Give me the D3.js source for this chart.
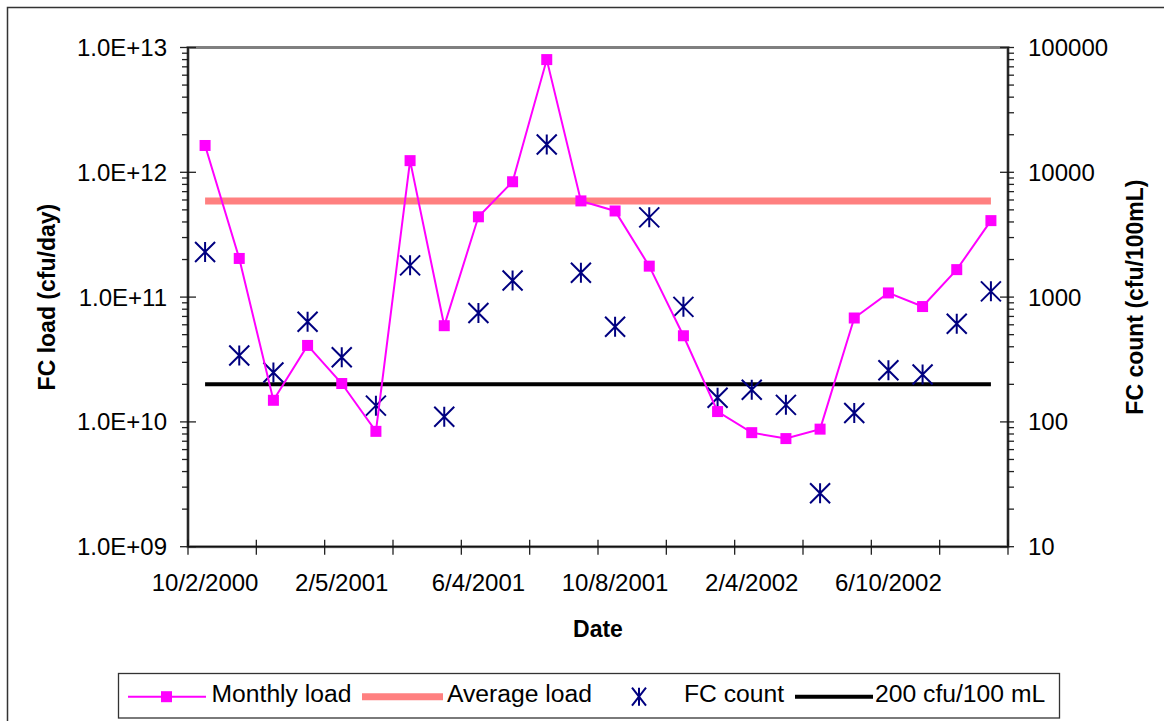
<!DOCTYPE html>
<html><head><meta charset="utf-8">
<script src="https://cdn.jsdelivr.net/npm/d3@7"></script>
<style>
html,body{margin:0;padding:0;background:#fff;}
svg{display:block;font-family:"Liberation Sans",Arial,sans-serif;}
</style>
</head><body>
<svg id="chart" width="1164" height="721"></svg>
<script>
// ---- data ----
const dates = ["10/2/2000","11/6/2000","12/4/2000","1/8/2001","2/5/2001","3/5/2001","4/2/2001","5/7/2001",
  "6/4/2001","7/2/2001","8/6/2001","9/4/2001","10/8/2001","11/5/2001","12/3/2001","1/7/2002",
  "2/4/2002","3/4/2002","4/1/2002","5/6/2002","6/10/2002","7/1/2002","8/5/2002","9/3/2002"];
const monthlyLoad = [1.64e12,2.04e11,1.49e10,4.10e10,2.03e10,8.4e9,1.24e12,5.9e10,
  4.4e11,8.4e11,8.0e12,5.9e11,4.9e11,1.77e11,4.9e10,1.21e10,
  8.2e9,7.35e9,8.75e9,6.8e10,1.08e11,8.4e10,1.66e11,4.1e11];
const fcCount = [2300,340,249,634,330,135,1796,110,
  746,1357,16700,1566,578,4355,835,156,
  181,137,26.8,118,259,240,611,1112];
const averageLoad = 5.9e11;
const standardCount = 200;
const leftTicks = [1e9,1e10,1e11,1e12,1e13];
const leftTickLabels = ["1.0E+09","1.0E+10","1.0E+11","1.0E+12","1.0E+13"];
const rightTicks = [10,100,1000,10000,100000];
const rightTickLabels = ["10","100","1000","10000","100000"];
const legendLabels = ["Monthly load","Average load","FC count","200 cfu/100 mL"];

// ---- layout ----
const svg = d3.select("#chart");
const L = 188, R = 1008, T = 47.5, B = 546.7;
const x = d3.scaleBand().domain(dates).range([L, R]).padding(0);
const cx = d => x(d) + x.bandwidth() / 2;
const yL = d3.scaleLog().domain([1e9, 1e13]).range([B, T]);
const yR = d3.scaleLog().domain([10, 1e5]).range([B, T]);

// outer border
svg.append("rect").attr("x", 7.5).attr("y", 7.5).attr("width", 1170).attr("height", 730)
  .attr("fill", "none").attr("stroke", "#333").attr("stroke-width", 1.5);

// plot area border
svg.append("rect").attr("x", L).attr("y", T).attr("width", R - L).attr("height", B - T)
  .attr("fill", "none").attr("stroke", "#808080").attr("stroke-width", 3);

// minor ticks
function minors(dom) {
  const out = [];
  for (let d = dom[0]; d < dom[1]; d *= 10) for (let k = 2; k <= 9; k++) out.push(k * d);
  return out;
}
const g = svg.append("g").attr("stroke", "#222").attr("stroke-width", 1.3);
g.selectAll(".mnL").data(minors([1e9, 1e13])).enter().append("line")
  .attr("x1", L - 6).attr("x2", L).attr("y1", d => yL(d)).attr("y2", d => yL(d));
g.selectAll(".mnR").data(minors([10, 1e5])).enter().append("line")
  .attr("x1", R).attr("x2", R + 6).attr("y1", d => yR(d)).attr("y2", d => yR(d));
// major ticks (cross)
g.selectAll(".mjL").data(leftTicks).enter().append("line")
  .attr("x1", L - 8).attr("x2", L + 8).attr("y1", d => yL(d)).attr("y2", d => yL(d));
g.selectAll(".mjR").data(rightTicks).enter().append("line")
  .attr("x1", R - 8).attr("x2", R + 6).attr("y1", d => yR(d)).attr("y2", d => yR(d));
// category ticks every 2 categories (cross)
const xTickPos = dates.filter((d, i) => i % 2 === 0).map(d => x(d)).concat([x.range()[1]]);
g.selectAll(".xt").data(xTickPos).enter().append("line")
  .attr("x1", d => d).attr("x2", d => d).attr("y1", B - 7).attr("y2", B + 8);

// axis lines
const ax = svg.append("g").attr("stroke", "#111").attr("stroke-width", 1.6);
ax.append("line").attr("x1", L).attr("x2", L).attr("y1", T).attr("y2", B);
ax.append("line").attr("x1", R).attr("x2", R).attr("y1", T).attr("y2", B);
ax.append("line").attr("x1", L).attr("x2", R).attr("y1", B).attr("y2", B);

// tick labels
svg.selectAll(".ll").data(leftTicks).enter().append("text")
  .attr("x", 167).attr("y", d => yL(d)).attr("dy", "0.355em").attr("text-anchor", "end")
  .attr("font-size", 24).attr("fill", "#000").text((d, i) => leftTickLabels[i]);
svg.selectAll(".rl").data(rightTicks).enter().append("text")
  .attr("x", 1028).attr("y", d => yR(d)).attr("dy", "0.355em").attr("text-anchor", "start")
  .attr("font-size", 24).attr("fill", "#000").text((d, i) => rightTickLabels[i]);
svg.selectAll(".xl").data(dates.filter((d, i) => i % 4 === 0)).enter().append("text")
  .attr("x", d => cx(d)).attr("y", 591).attr("text-anchor", "middle")
  .attr("font-size", 24).attr("fill", "#000").text(d => d);

// axis titles
svg.append("text").attr("transform", `translate(55,${(T + B) / 2}) rotate(-90)`)
  .attr("text-anchor", "middle").attr("font-size", 23).attr("font-weight", "bold").text("FC load (cfu/day)");
svg.append("text").attr("transform", `translate(1143,${(T + B) / 2}) rotate(-90)`)
  .attr("text-anchor", "middle").attr("font-size", 23).attr("font-weight", "bold").text("FC count (cfu/100mL)");
svg.append("text").attr("x", (L + R) / 2).attr("y", 637).attr("text-anchor", "middle")
  .attr("font-size", 23).attr("font-weight", "bold").text("Date");

// series
const x0 = cx(dates[0]), x1 = cx(dates[dates.length - 1]);
svg.append("line").attr("x1", x0).attr("x2", x1).attr("y1", yL(averageLoad)).attr("y2", yL(averageLoad))
  .attr("stroke", "#FF8080").attr("stroke-width", 7);
svg.append("line").attr("x1", x0).attr("x2", x1).attr("y1", yR(standardCount)).attr("y2", yR(standardCount))
  .attr("stroke", "#000").attr("stroke-width", 4);

const starPath = (w, h) => `M${-w},${-h}L${w},${h}M${-w},${h}L${w},${-h}M0,${-h}L0,${h}`;
svg.selectAll(".st").data(fcCount).enter().append("path")
  .attr("transform", (d, i) => `translate(${cx(dates[i])},${yR(d)})`)
  .attr("d", starPath(10, 10)).attr("stroke", "#000080").attr("stroke-width", 2).attr("fill", "none");

const line = d3.line().x((d, i) => cx(dates[i])).y(d => yL(d));
svg.append("path").datum(monthlyLoad).attr("d", line).attr("fill", "none")
  .attr("stroke", "#FF00FF").attr("stroke-width", 2);
svg.selectAll(".sq").data(monthlyLoad).enter().append("rect")
  .attr("x", (d, i) => cx(dates[i]) - 5.5).attr("y", d => yL(d) - 5.5)
  .attr("width", 11).attr("height", 11).attr("fill", "#FF00FF");

// legend
const lg = svg.append("g");
const ly = 696.7;
lg.append("rect").attr("x", 118.5).attr("y", 673.5).attr("width", 941).attr("height", 44.5)
  .attr("fill", "#fff").attr("stroke", "#333").attr("stroke-width", 1.3);
lg.append("line").attr("x1", 128).attr("x2", 206).attr("y1", ly).attr("y2", ly).attr("stroke", "#FF00FF").attr("stroke-width", 2);
lg.append("rect").attr("x", 161).attr("y", ly - 5.5).attr("width", 11).attr("height", 11).attr("fill", "#FF00FF");
lg.append("line").attr("x1", 362).attr("x2", 443).attr("y1", ly).attr("y2", ly).attr("stroke", "#FF8080").attr("stroke-width", 7);
lg.append("path").attr("transform", `translate(639,${ly})`).attr("d", starPath(7, 9))
  .attr("stroke", "#000080").attr("stroke-width", 2).attr("fill", "none");
lg.append("line").attr("x1", 795).attr("x2", 873).attr("y1", ly).attr("y2", ly).attr("stroke", "#000").attr("stroke-width", 4);
const lx = [211.5, 447, 684, 875];
lg.selectAll(".lt").data(legendLabels).enter().append("text")
  .attr("x", (d, i) => lx[i]).attr("y", 702).attr("font-size", 24.7).attr("fill", "#000").text(d => d);
</script>
</body></html>
